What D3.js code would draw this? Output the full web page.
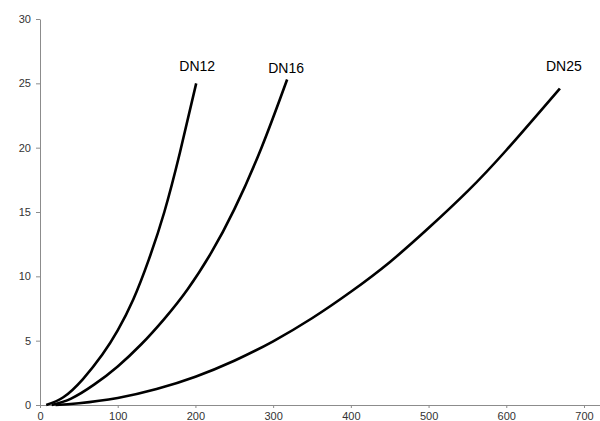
<!DOCTYPE html>
<html>
<head>
<meta charset="utf-8">
<script src="https://cdn.jsdelivr.net/npm/d3@7"></script>
<style>
  body { margin: 0; background: #fff; }
  text { font-family: "Liberation Sans", Arial, sans-serif; }
</style>
</head>
<body>
<svg width="600" height="421"></svg>
<script>
// values
var xTicks = [0, 100, 200, 300, 400, 500, 600, 700];
var yTicks = [0, 5, 10, 15, 20, 25, 30];

var dn12 = [[8, 0], [30, 0.6], [55, 2.0], [80, 3.9], [100, 5.8], [120, 8.2], [140, 11.3], [160, 15.0], [180, 19.6], [201, 25]];
var dn16 = [[15, 0], [40, 0.5], [70, 1.6], [100, 3.0], [130, 4.7], [160, 6.7], [190, 9.0], [220, 11.8], [250, 15.2], [285, 20.0], [318, 25.3]];
var dn25 = [[20, 0], [50, 0.14], [100, 0.55], [150, 1.24], [200, 2.2], [250, 3.44], [300, 4.95], [350, 6.74], [400, 8.8], [450, 11.1], [500, 13.75], [550, 16.6], [600, 19.8], [669, 24.6]];

var seriesNames = ["DN12", "DN16", "DN25"];
var seriesData = [dn12, dn16, dn25];

var svg = d3.select("svg");

var x = d3.scaleLinear().domain([0, 720.6]).range([40, 600]);
var y = d3.scaleLinear().domain([0, 30]).range([405, 19]);

// y axis
svg.append("g")
    .attr("transform", "translate(40,0)")
    .call(d3.axisLeft(y).tickValues(yTicks).tickSize(4).tickSizeOuter(0).tickPadding(5));

// x axis
svg.append("g")
    .attr("transform", "translate(0,405)")
    .call(d3.axisBottom(x).tickValues(xTicks).tickSize(3).tickSizeOuter(0).tickPadding(4));

svg.selectAll(".domain, .tick line").attr("stroke", "#8c8c8c");
svg.selectAll(".tick text")
    .attr("fill", "#333")
    .style("font-size", "11px");

var line = d3.line()
    .x(d => x(d[0]))
    .y(d => y(d[1]))
    .curve(d3.curveNatural);

svg.selectAll(".curve")
    .data(seriesData)
    .enter()
    .append("path")
        .classed("curve", true)
        .attr("d", line)
        .attr("fill", "none")
        .attr("stroke", "#000")
        .attr("stroke-width", 2.6);

// labels above the end of each curve
svg.selectAll(".lbl")
    .data(seriesData)
    .enter()
    .append("text")
        .classed("lbl", true)
        .attr("x", (d, i) => x(d[d.length - 1][0]) + [1, -1, 4][i])
        .attr("y", (d, i) => [71, 73, 71][i])
        .attr("text-anchor", "middle")
        .style("font-size", "14px")
        .attr("fill", "#000")
        .text((d, i) => seriesNames[i]);
</script>
</body>
</html>
